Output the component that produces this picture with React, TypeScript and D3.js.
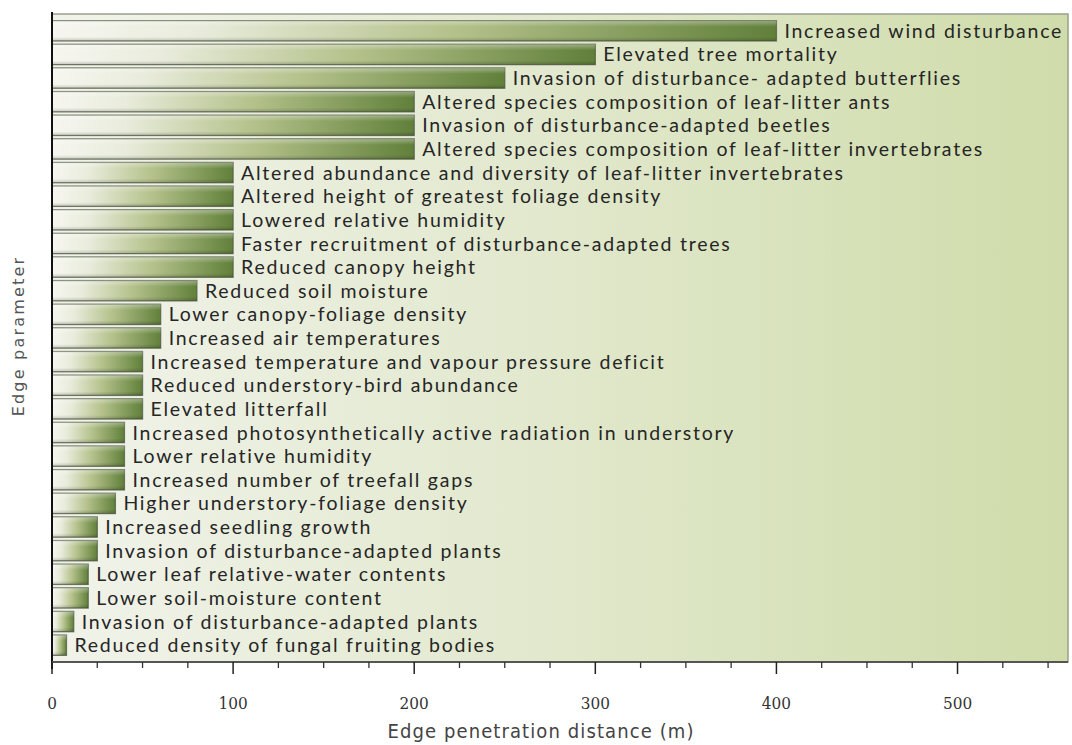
import React from "react";
import * as d3 from "d3";

const categories: string[] = [
  "Increased wind disturbance",
  "Elevated tree mortality",
  "Invasion of disturbance- adapted butterflies",
  "Altered species composition of leaf-litter ants",
  "Invasion of disturbance-adapted beetles",
  "Altered species composition of leaf-litter invertebrates",
  "Altered abundance and diversity of leaf-litter invertebrates",
  "Altered height of greatest foliage density",
  "Lowered relative humidity",
  "Faster recruitment of disturbance-adapted trees",
  "Reduced canopy height",
  "Reduced soil moisture",
  "Lower canopy-foliage density",
  "Increased air temperatures",
  "Increased temperature and vapour pressure deficit",
  "Reduced understory-bird abundance",
  "Elevated litterfall",
  "Increased photosynthetically active radiation in understory",
  "Lower relative humidity",
  "Increased number of treefall gaps",
  "Higher understory-foliage density",
  "Increased seedling growth",
  "Invasion of disturbance-adapted plants",
  "Lower leaf relative-water contents",
  "Lower soil-moisture content",
  "Invasion of disturbance-adapted plants",
  "Reduced density of fungal fruiting bodies",
];

const values: number[] = [
  400, 300, 250, 200, 200, 200, 100, 100, 100, 100, 100, 80, 60, 60, 50, 50, 50,
  40, 40, 40, 35, 25, 25, 20, 20, 12, 8,
];

const majorTicks: number[] = [0, 100, 200, 300, 400, 500];

const W = 1072;
const H = 745;
const plotLeft = 52;
const plotRight = 1068;
const plotTop = 14;
const plotBottom = 662;

export default function App() {
  const x = d3.scaleLinear().domain([0, 561]).range([plotLeft, plotRight]);
  const idx = d3.range(categories.length).map(String);
  const y = d3
    .scaleBand<string>()
    .domain(idx)
    .range([19, 657])
    .paddingInner(0.14)
    .paddingOuter(0.07);
  const minorTicks = d3.range(0, 561, 25).filter((v) => v % 100 !== 0);

  return (
    <svg
      width={W}
      height={H}
      style={{ position: "absolute", left: 0, top: 0, background: "#fff" }}
    >
      <defs>
        <linearGradient id="bg" x1="0" x2="1" y1="0" y2="0">
          <stop offset="0" stopColor="#f1f3ea" />
          <stop offset="0.5" stopColor="#e1e8cc" />
          <stop offset="1" stopColor="#cfdcaa" />
        </linearGradient>
        <linearGradient id="bar" x1="0" x2="1" y1="0" y2="0">
          <stop offset="0" stopColor="#f6f6f0" />
          <stop offset="0.2" stopColor="#e9ecdc" />
          <stop offset="0.55" stopColor="#b5c28c" />
          <stop offset="1" stopColor="#61803a" />
        </linearGradient>
        <linearGradient id="barShade" x1="0" x2="0" y1="0" y2="1">
          <stop offset="0" stopColor="#ffffff" stopOpacity="0.35" />
          <stop offset="0.3" stopColor="#ffffff" stopOpacity="0" />
          <stop offset="0.8" stopColor="#000000" stopOpacity="0" />
          <stop offset="1" stopColor="#000000" stopOpacity="0.18" />
        </linearGradient>
      </defs>

      <rect
        x={plotLeft}
        y={plotTop}
        width={plotRight - plotLeft}
        height={plotBottom - plotTop}
        fill="url(#bg)"
        stroke="#9a9f90"
        strokeWidth={1.5}
      />

      {values.map((v, i) => {
        const yy = y(String(i)) as number;
        const bw = x(v) - x(0);
        return (
          <g key={i}>
            <rect
              x={x(0)}
              y={yy}
              width={bw}
              height={y.bandwidth()}
              fill="url(#bar)"
              stroke="#4f5a43"
              strokeOpacity={0.75}
              strokeWidth={1.3}
            />
            <rect
              x={x(0)}
              y={yy}
              width={bw}
              height={y.bandwidth()}
              fill="url(#barShade)"
            />
            <text
              x={x(v) + 8}
              y={yy + y.bandwidth() / 2}
              dy="0.36em"
              fontFamily="Lato, 'Open Sans', sans-serif"
              fontSize={19.5}
              letterSpacing={1.75}
              fill="#262626"
            >
              {categories[i]}
            </text>
          </g>
        );
      })}

      {/* axes */}
      <line x1={plotLeft} x2={plotLeft} y1={plotTop - 2} y2={plotBottom + 7} stroke="#111" strokeWidth={2} />
      <line x1={plotLeft} x2={plotRight} y1={plotBottom} y2={plotBottom} stroke="#555" strokeWidth={2} />
      {minorTicks.map((t) => (
        <line key={"m" + t} x1={x(t)} x2={x(t)} y1={plotBottom} y2={plotBottom + 6} stroke="#333" strokeWidth={1.3} />
      ))}
      {majorTicks.map((t) => (
        <g key={"M" + t}>
          <line x1={x(t)} x2={x(t)} y1={plotBottom} y2={plotBottom + 12} stroke="#222" strokeWidth={1.5} />
          <text
            x={x(t)}
            y={plotBottom + 47}
            textAnchor="middle"
            fontFamily="'DejaVu Serif Condensed', 'DejaVu Serif', serif"
            fontSize={17}
            fill="#333"
          >
            {t}
          </text>
        </g>
      ))}
      <text
        x={541}
        y={738}
        textAnchor="middle"
        fontFamily="'Liberation Sans Narrow', 'DejaVu Sans Condensed', sans-serif"
        fontSize={20}
        letterSpacing={1.1}
        fill="#444"
      >
        Edge penetration distance (m)
      </text>
      <text
        transform={`translate(24, 336) rotate(-90)`}
        textAnchor="middle"
        fontFamily="'DejaVu Sans', sans-serif"
        fontSize={16}
        letterSpacing={2.2}
        fill="#555"
      >
        Edge parameter
      </text>
    </svg>
  );
}
